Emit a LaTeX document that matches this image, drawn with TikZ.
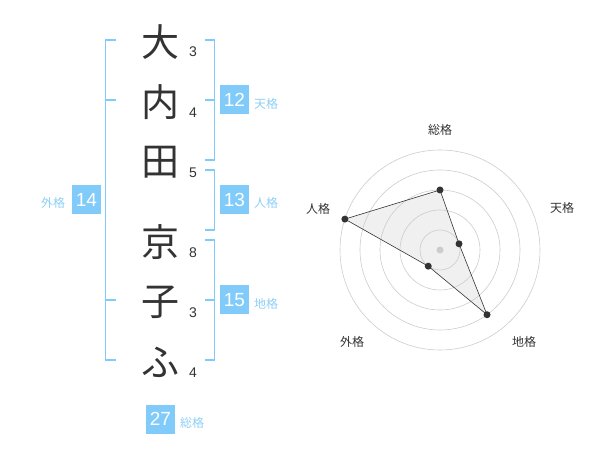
\documentclass[tikz,border=0pt]{standalone}
\usepackage{fontspec}
\usetikzlibrary{calc}
\setmainfont{Liberation Sans}
\newfontfamily\jp{Noto Sans CJK JP}
\definecolor{bl}{HTML}{80CBFA}
\definecolor{bltxt}{HTML}{8ECFF5}
\definecolor{dk}{HTML}{333333}
\definecolor{ring}{HTML}{CCCCCC}
\definecolor{area}{HTML}{F0F0F0}
\begin{document}
\begin{tikzpicture}[x=1pt,y=-1pt,
  kanji/.style={font=\jp\fontsize{38}{38}\selectfont, text=dk, inner sep=0pt},
  strk/.style={font=\fontsize{14}{14}\selectfont, text=dk, inner sep=0pt},
  numbox/.style={fill=bl, text=white, minimum width=29pt, minimum height=29pt, inner sep=0pt, font=\fontsize{19}{19}\selectfont},
  kaku/.style={font=\jp\fontsize{12}{12}\selectfont, text=bltxt, inner sep=0pt},
  brk/.style={draw=bl, line width=1.6pt},
  rlab/.style={font=\jp\fontsize{12}{12}\selectfont, text=dk, inner sep=0pt},
  ringc/.style={draw=ring, line width=0.6pt},
  dot/.style={circle, fill=dk, inner sep=0pt, minimum size=7pt}
]
\useasboundingbox (0,0) rectangle (600,470);
% kanji
\node[kanji] (k1) at (160,42) {大};
\node[kanji] (k2) at (160,102) {内};
\node[kanji] (k3) at (160,162) {田};
\node[kanji] (k4) at (160,242) {京};
\node[kanji] (k5) at (160,302) {子};
\node[kanji] (k6) at (160,362) {ふ};
% stroke counts
\node[strk] (s1) at (193,52) {3};
\node[strk] (s2) at (193,113) {4};
\node[strk] (s3) at (193,173) {5};
\node[strk] (s4) at (193,253) {8};
\node[strk] (s5) at (193,313) {3};
\node[strk] (s6) at (193,373) {4};
% outer bracket
\draw[brk] (116,40) -- (105.5,40) -- (105.5,360) -- (116,360);
\draw[brk] (105.5,100) -- (116,100);
\draw[brk] (105.5,300) -- (116,300);
% right brackets
\draw[brk] (205,40) -- (214.5,40) -- (214.5,160) -- (205,160);
\draw[brk] (205,100) -- (214.5,100);
\draw[brk] (205,170) -- (214.5,170) -- (214.5,230) -- (205,230);
\draw[brk] (205,240) -- (214.5,240) -- (214.5,360) -- (205,360);
\draw[brk] (205,300) -- (214.5,300);
% boxes
\node[numbox] (b14) at (86.5,200) {14};
\node[kaku] (l14) at (53,203) {外格};
\node[numbox] (b12) at (234.5,100) {12};
\node[kaku] (l12) at (266,104) {天格};
\node[numbox] (b13) at (234.5,200) {13};
\node[kaku] (l13) at (266,203) {人格};
\node[numbox] (b15) at (234.5,300) {15};
\node[kaku] (l15) at (266,304) {地格};
\node[numbox] (b27) at (160.5,419) {27};
\node[kaku] (l27) at (192,423) {総格};
% radar
\coordinate (c) at (440,250);
\coordinate (p1) at ($(c)+(-90:60)$);
\coordinate (p2) at ($(c)+(-18:20)$);
\coordinate (p3) at ($(c)+(54:80)$);
\coordinate (p4) at ($(c)+(126:20)$);
\coordinate (p5) at ($(c)+(-162:100)$);
\fill[area] (p1) -- (p2) -- (p3) -- (p4) -- (p5) -- cycle;
\foreach \r in {20,40,60,80,100} \draw[ringc] (c) circle[radius=\r];
\fill[ring] (c) circle[radius=3.5];
\draw[draw=dk, line width=0.6pt] (p1) -- (p2) -- (p3) -- (p4) -- (p5) -- cycle;
\foreach \p in {p1,p2,p3,p4,p5} \node[dot] at (\p) {};
\node[rlab] (r1) at (440,130) {総格};
\node[rlab] (r2) at (562,208) {天格};
\node[rlab] (r3) at (524,342) {地格};
\node[rlab] (r4) at (352,342) {外格};
\node[rlab] (r5) at (318,209) {人格};
\end{tikzpicture}
\end{document}
